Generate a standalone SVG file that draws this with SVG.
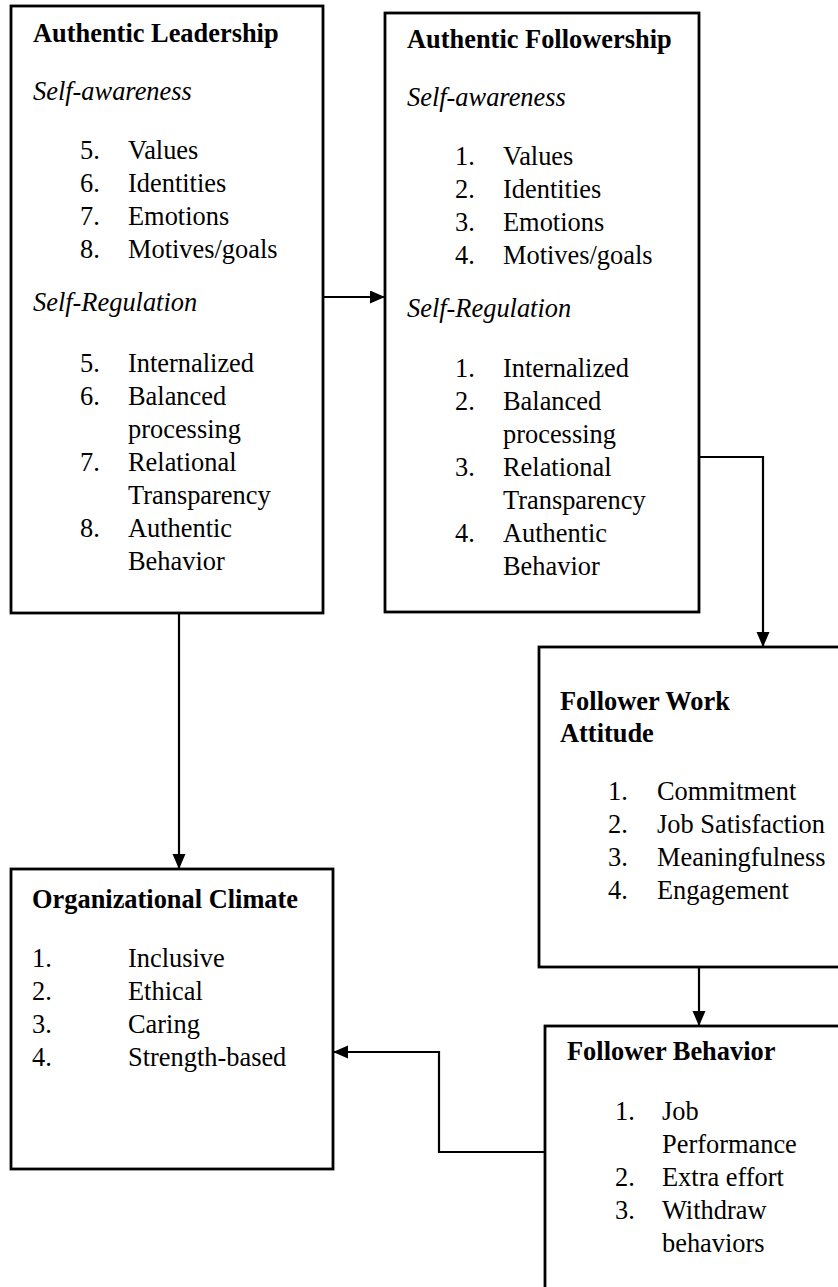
<svg xmlns="http://www.w3.org/2000/svg" width="838" height="1287" viewBox="0 0 838 1287">
<style>
.box{fill:#fff;stroke:#000;stroke-width:2.8}
.conn{fill:none;stroke:#000;stroke-width:2.2}
text{font-family:"Liberation Serif","Times New Roman",serif;font-size:26.4px;fill:#000}
.b{font-weight:bold}
.i{font-style:italic}
</style>
<defs>
<marker id="ah" markerUnits="userSpaceOnUse" markerWidth="16" markerHeight="14" refX="15" refY="6.5" orient="auto">
<path d="M0,0 L15,6.5 L0,13 z" fill="#000"/>
</marker>
</defs>
<rect width="838" height="1287" fill="#fff"/>

<g id="authentic-leadership">
<rect class="box" x="11" y="6" width="312" height="607"/>
<text class="b" x="33" y="42">Authentic Leadership</text>
<text class="i" x="33" y="100">Self-awareness</text>
<text x="80" y="159">5.</text><text x="128" y="159">Values</text>
<text x="80" y="192">6.</text><text x="128" y="192">Identities</text>
<text x="80" y="225">7.</text><text x="128" y="225">Emotions</text>
<text x="80" y="258">8.</text><text x="128" y="258">Motives/goals</text>
<text class="i" x="33" y="311">Self-Regulation</text>
<text x="80" y="372">5.</text><text x="128" y="372">Internalized</text>
<text x="80" y="405">6.</text><text x="128" y="405">Balanced</text>
<text x="128" y="438">processing</text>
<text x="80" y="471">7.</text><text x="128" y="471">Relational</text>
<text x="128" y="504">Transparency</text>
<text x="80" y="537">8.</text><text x="128" y="537">Authentic</text>
<text x="128" y="570">Behavior</text>
</g>

<g id="authentic-followership">
<rect class="box" x="385" y="13" width="314" height="599"/>
<text class="b" x="407" y="48">Authentic Followership</text>
<text class="i" x="407" y="106">Self-awareness</text>
<text x="455" y="165">1.</text><text x="503" y="165">Values</text>
<text x="455" y="198">2.</text><text x="503" y="198">Identities</text>
<text x="455" y="231">3.</text><text x="503" y="231">Emotions</text>
<text x="455" y="264">4.</text><text x="503" y="264">Motives/goals</text>
<text class="i" x="407" y="317">Self-Regulation</text>
<text x="455" y="377">1.</text><text x="503" y="377">Internalized</text>
<text x="455" y="410">2.</text><text x="503" y="410">Balanced</text>
<text x="503" y="443">processing</text>
<text x="455" y="476">3.</text><text x="503" y="476">Relational</text>
<text x="503" y="509">Transparency</text>
<text x="455" y="542">4.</text><text x="503" y="542">Authentic</text>
<text x="503" y="575">Behavior</text>
</g>

<g id="follower-work-attitude">
<rect class="box" x="539" y="647" width="320" height="320"/>
<text class="b" x="560" y="710">Follower Work</text>
<text class="b" x="560" y="742">Attitude</text>
<text x="608" y="800">1.</text><text x="657" y="800">Commitment</text>
<text x="608" y="833">2.</text><text x="657" y="833">Job Satisfaction</text>
<text x="608" y="866">3.</text><text x="657" y="866">Meaningfulness</text>
<text x="608" y="899">4.</text><text x="657" y="899">Engagement</text>
</g>

<g id="follower-behavior">
<rect class="box" x="545" y="1026" width="320" height="290"/>
<text class="b" x="567" y="1060">Follower Behavior</text>
<text x="615" y="1120">1.</text><text x="662" y="1120">Job</text>
<text x="662" y="1153">Performance</text>
<text x="615" y="1186">2.</text><text x="662" y="1186">Extra effort</text>
<text x="615" y="1219">3.</text><text x="662" y="1219">Withdraw</text>
<text x="662" y="1252">behaviors</text>
</g>

<g id="organizational-climate">
<rect class="box" x="11" y="869" width="322" height="300"/>
<text class="b" x="32" y="908">Organizational Climate</text>
<text x="32" y="967">1.</text><text x="128" y="967">Inclusive</text>
<text x="32" y="1000">2.</text><text x="128" y="1000">Ethical</text>
<text x="32" y="1033">3.</text><text x="128" y="1033">Caring</text>
<text x="32" y="1066">4.</text><text x="128" y="1066">Strength-based</text>
</g>

<g id="connectors">
<path class="conn" d="M323,297 H385" marker-end="url(#ah)"/>
<path class="conn" d="M699,457 H763 V647" marker-end="url(#ah)"/>
<path class="conn" d="M699,967 V1026" marker-end="url(#ah)"/>
<path class="conn" d="M179,613 V869" marker-end="url(#ah)"/>
<path class="conn" d="M546,1152 H439 V1052 H333" marker-end="url(#ah)"/>
</g>
</svg>
